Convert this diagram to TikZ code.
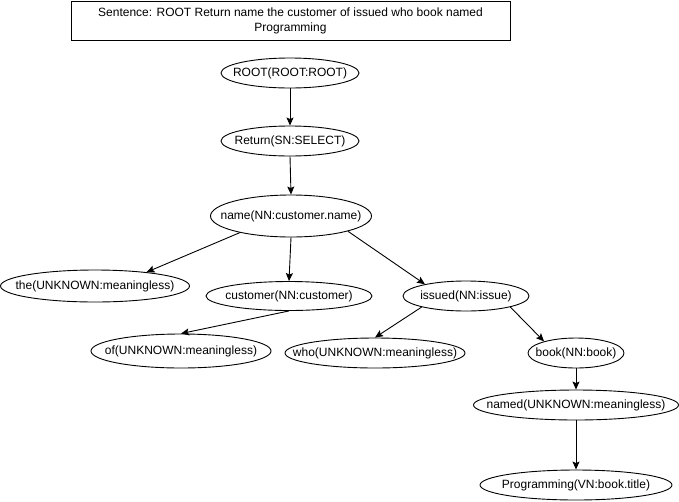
\documentclass[tikz,border=0pt]{standalone}
\usepackage{fontspec}
\setmainfont{Liberation Sans}
\usetikzlibrary{shapes.geometric,arrows.meta}
\newcommand\zwtext[1]{\makebox[0pt][c]{#1}}
\tikzset{
  tok/.style={draw, ellipse, inner sep=0pt, line width=0.9pt, font=\fontsize{12}{14}\selectfont},
  edge/.style={line width=0.9pt, -{Stealth[length=8pt,width=7pt,inset=1.5pt]}},
  titlebox/.style={draw, rectangle, line width=1pt, inner sep=0pt, align=center, font=\fontsize{12}{15}\selectfont}
}
\begin{document}
\begin{tikzpicture}[x=1pt,y=-1pt]
\useasboundingbox (0,0) rectangle (679,501);
\node[titlebox, minimum width=439pt, minimum height=39pt] (title) at (290.5,20.5) {Sentence: ROOT Return name the customer of issued who book named\\Programming};
\node[tok, minimum width=138pt, minimum height=30pt] (root) at (290,73) {\zwtext{ROOT(ROOT:ROOT)}};
\node[tok, minimum width=138pt, minimum height=30pt] (ret) at (290,141) {\zwtext{Return(SN:SELECT)}};
\node[tok, minimum width=161pt, minimum height=42pt] (name) at (291,216) {\zwtext{name(NN:customer.name)}};
\node[tok, minimum width=189pt, minimum height=32pt] (the) at (95,286) {\zwtext{the(UNKNOWN:meaningless)}};
\node[tok, minimum width=166pt, minimum height=29pt] (cust) at (289,296) {\zwtext{customer(NN:customer)}};
\node[tok, minimum width=126pt, minimum height=30pt] (issued) at (466,296) {\zwtext{issued(NN:issue)}};
\node[tok, minimum width=180pt, minimum height=34pt] (of) at (181,351) {\zwtext{of(UNKNOWN:meaningless)}};
\node[tok, minimum width=180pt, minimum height=30pt] (who) at (375,353) {\zwtext{who(UNKNOWN:meaningless)}};
\node[tok, minimum width=96pt, minimum height=30pt] (book) at (576,353) {\zwtext{book(NN:book)}};
\node[tok, minimum width=205pt, minimum height=30pt] (named) at (576,405) {\zwtext{named(UNKNOWN:meaningless)}};
\node[tok, minimum width=192pt, minimum height=30pt] (prog) at (576,485) {\zwtext{Programming(VN:book.title)}};
\draw[edge] (root.south) -- (ret.north);
\draw[edge] (ret.south) -- (name.north);
\draw[edge] (name.198) -- (the.15);
\draw[edge] (name.south) -- (cust.north);
\draw[edge] (name.345) -- (issued.164);
\draw[edge] (cust.south) -- (of.north);
\draw[edge] (issued.194) -- (who.north);
\draw[edge] (issued.346) -- (book.160);
\draw[edge] (book.south) -- (named.north);
\draw[edge] (named.south) -- (prog.north);
\end{tikzpicture}
\end{document}
